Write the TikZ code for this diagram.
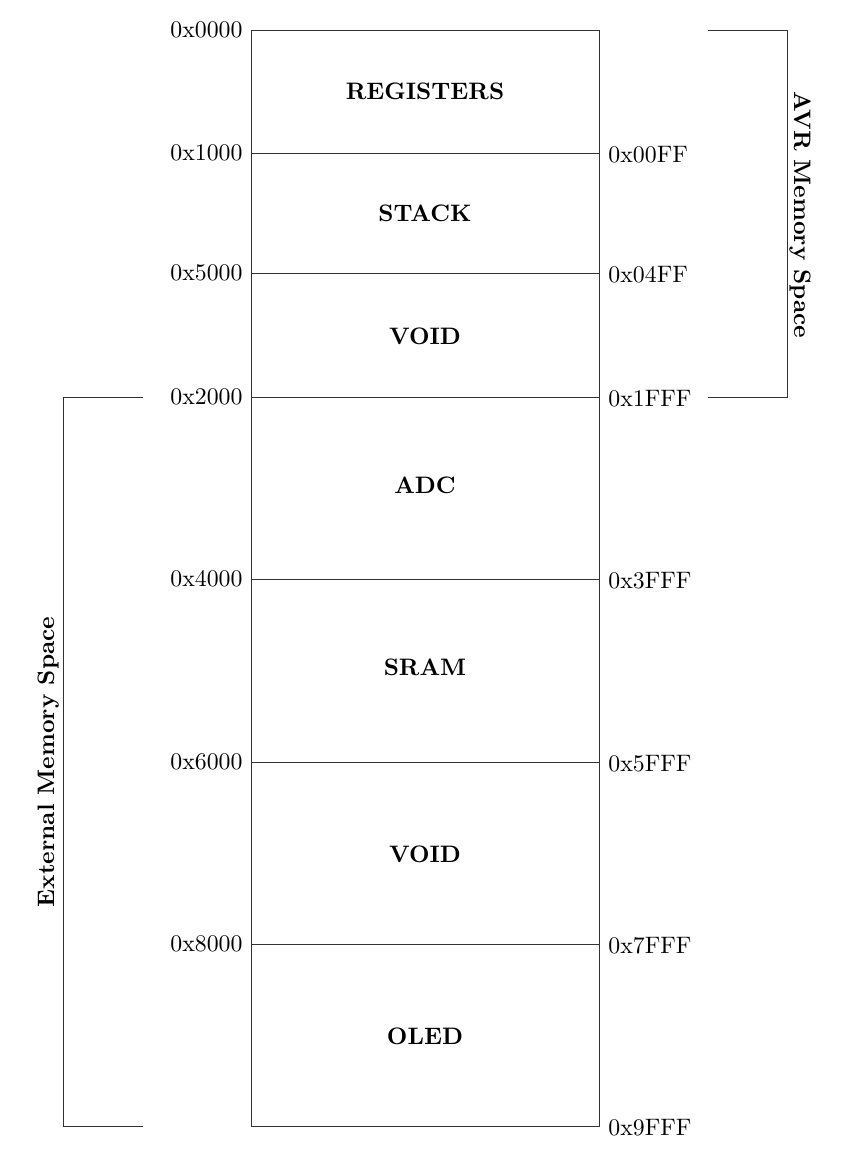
\documentclass[tikz,border=0pt]{standalone}
\begin{document}
\begin{tikzpicture}[x=0.42pt,y=-0.42pt,
  memline/.style={line width=0.35pt, black!80},
  addrL/.style={anchor=east, inner sep=0pt, font=\normalsize},
  addrR/.style={anchor=west, inner sep=0pt, font=\normalsize},
  blocklabel/.style={font=\bfseries, inner sep=0pt},
  spacelabel/.style={font=\bfseries, inner sep=0pt}]
\useasboundingbox (0,0) rectangle (844,1170);
% boundaries
\foreach \n/\y in {b0/30,b1/153,b2/273,b3/397,b4/579,b5/762,b6/944,b7/1126}{
  \coordinate (\n L) at (251,\y);
  \coordinate (\n R) at (599,\y);
}
\draw[memline] (b0L) rectangle (b7R);
\foreach \n in {b1,b2,b3,b4,b5,b6}{\draw[memline] (\n L) -- (\n R);}
% block labels
\node[blocklabel] (reg) at (425,91) {REGISTERS};
\node[blocklabel] (stack) at (425,213) {STACK};
\node[blocklabel] (void1) at (425,336) {VOID};
\node[blocklabel] (adc) at (425,485) {ADC};
\node[blocklabel] (sram) at (425,667) {SRAM};
\node[blocklabel] (void2) at (425,854) {VOID};
\node[blocklabel] (oled) at (425,1036) {OLED};
% left addresses
\node[addrL] (l0) at (243,30) {0x0000};
\node[addrL] (l1) at (243,153) {0x1000};
\node[addrL] (l2) at (243,273) {0x5000};
\node[addrL] (l3) at (243,397) {0x2000};
\node[addrL] (l4) at (243,579) {0x4000};
\node[addrL] (l5) at (243,762) {0x6000};
\node[addrL] (l6) at (243,944) {0x8000};
% right addresses
\node[addrR] (r1) at (608,155) {0x00FF};
\node[addrR] (r2) at (608,275) {0x04FF};
\node[addrR] (r3) at (608,399) {0x1FFF};
\node[addrR] (r4) at (608,581) {0x3FFF};
\node[addrR] (r5) at (608,764) {0x5FFF};
\node[addrR] (r6) at (608,946) {0x7FFF};
\node[addrR] (r7) at (608,1128) {0x9FFF};
% AVR bracket
\coordinate (avrA) at (708,30);
\coordinate (avrB) at (787,30);
\coordinate (avrC) at (787,397);
\coordinate (avrD) at (708,397);
\draw[memline] (avrA) -- (avrB) -- (avrC) -- (avrD);
\node[spacelabel, rotate=-90] (avr) at (800,215) {AVR Memory Space};
% External bracket
\coordinate (extA) at (143,397);
\coordinate (extB) at (63,397);
\coordinate (extC) at (63,1126);
\coordinate (extD) at (143,1126);
\draw[memline] (extA) -- (extB) -- (extC) -- (extD);
\node[spacelabel, rotate=90] (ext) at (49,762) {External Memory Space};
\end{tikzpicture}
\end{document}
